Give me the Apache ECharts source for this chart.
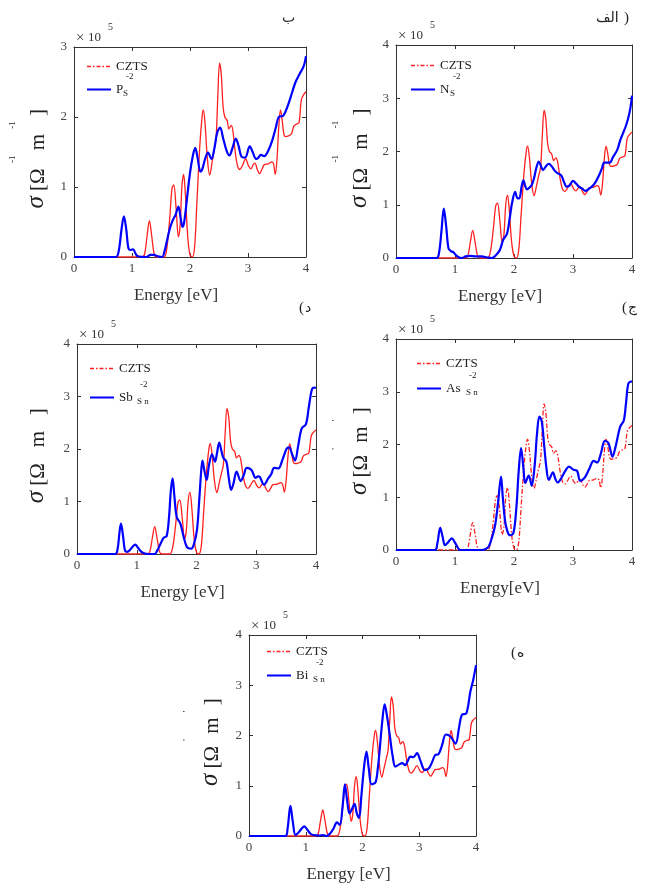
<!DOCTYPE html>
<html>
<head>
<meta charset="utf-8">
<script src="https://cdn.jsdelivr.net/npm/echarts@6/dist/echarts.min.js"></script>
<style>
html, body { margin: 0; padding: 0; background: #fff; }
#main { width: 649px; height: 885px; }
</style>
</head>
<body>
<div id="main"></div>
<script>
// conductivity sigma (x 10^5) against photon energy [eV]
var czts = [[0,0],[0.75,0],[1.18,0],[1.22,0.05],[1.26,0.3],[1.30,0.52],[1.34,0.3],[1.38,0.05],[1.42,0],[1.55,0],
  [1.6,0.12],[1.65,0.55],[1.69,0.98],[1.72,1.03],[1.76,0.7],[1.80,0.29],[1.83,0.45],[1.86,1.0],[1.89,1.18],[1.92,0.9],
  [1.96,0.3],[2.0,0.03],[2.04,0],[2.08,0.15],[2.12,0.8],[2.17,1.6],[2.21,2.02],[2.23,2.1],[2.26,1.9],[2.30,1.4],
  [2.34,1.17],[2.38,1.35],[2.42,1.55],[2.45,1.7],[2.48,2.3],[2.51,2.77],[2.54,2.6],[2.57,2.15],[2.60,2.0],[2.64,1.95],
  [2.67,1.83],[2.71,1.88],[2.74,1.8],[2.78,1.5],[2.82,1.3],[2.86,1.25],[2.90,1.3],[2.96,1.40],[3.01,1.3],[3.05,1.26],
  [3.09,1.32],[3.12,1.34],[3.16,1.25],[3.20,1.19],[3.24,1.25],[3.28,1.32],[3.35,1.33],[3.41,1.36],[3.44,1.33],[3.47,1.18],
  [3.50,1.4],[3.53,1.85],[3.56,2.10],[3.59,1.95],[3.62,1.75],[3.65,1.72],[3.70,1.73],[3.75,1.76],[3.79,1.87],[3.84,1.9],
  [3.88,1.92],[3.92,2.25],[3.96,2.32],[4.0,2.36]];

var pS = [[0,0],[0.72,0],[0.77,0.08],[0.82,0.4],[0.86,0.58],[0.90,0.4],[0.94,0.12],[0.98,0.1],[1.02,0.11],[1.06,0.05],
  [1.1,0.01],[1.25,0],[1.32,0.03],[1.38,0.03],[1.45,0.01],[1.52,0],[1.56,0.08],[1.6,0.22],[1.65,0.4],[1.70,0.52],
  [1.75,0.6],[1.80,0.72],[1.84,0.55],[1.87,0.43],[1.90,0.5],[1.95,0.85],[2.0,1.2],[2.05,1.45],[2.09,1.56],[2.13,1.42],
  [2.18,1.22],[2.21,1.25],[2.26,1.4],[2.31,1.49],[2.37,1.40],[2.42,1.55],[2.47,1.78],[2.52,1.85],[2.57,1.7],[2.63,1.52],
  [2.68,1.45],[2.73,1.55],[2.79,1.69],[2.84,1.58],[2.89,1.43],[2.95,1.42],[3.03,1.58],[3.08,1.5],[3.14,1.40],[3.18,1.42],
  [3.22,1.46],[3.28,1.44],[3.35,1.52],[3.42,1.67],[3.48,1.85],[3.53,2.0],[3.61,2.02],[3.69,2.17],[3.76,2.35],[3.82,2.5],
  [3.88,2.6],[3.94,2.69],[3.97,2.75],[4.0,2.87]];

var nS = [[0,0],[0.69,0],[0.73,0.1],[0.77,0.5],[0.81,0.93],[0.85,0.6],[0.89,0.18],[0.93,0.13],[0.97,0.11],[1.02,0.05],
  [1.07,0.01],[1.12,0],[1.18,0.03],[1.25,0.04],[1.35,0.03],[1.45,0.03],[1.55,0.01],[1.62,0],[1.70,0.06],[1.76,0.15],
  [1.82,0.35],[1.88,0.45],[1.93,0.77],[1.97,1.05],[2.02,1.24],[2.06,1.12],[2.09,1.12],[2.13,1.35],[2.16,1.46],[2.19,1.35],
  [2.22,1.29],[2.26,1.32],[2.30,1.37],[2.34,1.5],[2.38,1.7],[2.42,1.81],[2.46,1.72],[2.49,1.65],[2.54,1.72],[2.59,1.77],
  [2.64,1.72],[2.69,1.64],[2.73,1.60],[2.80,1.55],[2.85,1.42],[2.89,1.34],[2.94,1.36],[3.0,1.45],[3.05,1.40],[3.1,1.34],
  [3.16,1.3],[3.21,1.26],[3.27,1.30],[3.32,1.34],[3.38,1.42],[3.44,1.55],[3.49,1.68],[3.53,1.79],[3.62,1.79],[3.68,1.9],
  [3.75,2.03],[3.80,2.21],[3.85,2.35],[3.89,2.46],[3.93,2.6],[3.97,2.8],[4.0,3.05]];

var sbSn = [[0,0],[0.64,0],[0.68,0.1],[0.71,0.4],[0.735,0.58],[0.77,0.35],[0.80,0.08],[0.83,0.04],[0.88,0.07],[0.93,0.14],
  [0.975,0.18],[1.02,0.12],[1.07,0.05],[1.11,0.02],[1.2,0],[1.3,0],[1.34,0.06],[1.40,0.2],[1.45,0.31],[1.50,0.34],
  [1.54,0.7],[1.57,1.2],[1.60,1.44],[1.63,1.1],[1.67,0.7],[1.73,0.58],[1.78,0.35],[1.84,0.13],[1.91,0.1],[1.96,0.2],
  [2.01,0.48],[2.05,1.1],[2.08,1.6],[2.10,1.78],[2.13,1.6],[2.17,1.41],[2.21,1.7],[2.26,1.90],[2.31,1.76],[2.34,1.9],
  [2.38,2.12],[2.42,1.95],[2.45,1.83],[2.50,1.76],[2.54,1.45],[2.58,1.22],[2.62,1.35],[2.67,1.57],[2.74,1.39],[2.79,1.5],
  [2.84,1.64],[2.92,1.60],[2.99,1.45],[3.03,1.48],[3.06,1.47],[3.13,1.32],[3.2,1.44],[3.25,1.52],[3.30,1.64],[3.37,1.63],
  [3.44,1.8],[3.51,2.01],[3.55,2.03],[3.60,1.9],[3.65,1.78],[3.70,2.05],[3.76,2.39],[3.83,2.47],[3.88,2.8],[3.93,3.13],
  [3.97,3.17],[4.0,3.16]];

var asSn = [[0,0],[0.66,0],[0.70,0.12],[0.75,0.42],[0.79,0.25],[0.83,0.09],[0.88,0.14],[0.945,0.22],[1.0,0.14],[1.05,0.04],
  [1.09,0],[1.45,0],[1.52,0.02],[1.57,0.06],[1.63,0.25],[1.68,0.47],[1.73,0.9],[1.78,1.39],[1.81,1.0],[1.85,0.54],
  [1.89,0.35],[1.93,0.28],[1.99,0.32],[2.04,0.8],[2.08,1.5],[2.12,1.93],[2.16,1.55],[2.19,1.27],[2.25,1.41],[2.30,1.22],
  [2.35,1.6],[2.39,2.2],[2.43,2.53],[2.47,2.44],[2.51,2.0],[2.55,1.55],[2.59,1.33],[2.66,1.47],[2.70,1.35],[2.74,1.28],
  [2.80,1.36],[2.87,1.5],[2.93,1.58],[3.01,1.52],[3.07,1.50],[3.12,1.31],[3.16,1.33],[3.21,1.39],[3.28,1.55],[3.35,1.69],
  [3.41,1.66],[3.47,1.82],[3.54,2.07],[3.60,2.03],[3.67,1.77],[3.72,1.95],[3.80,2.34],[3.86,2.45],[3.90,2.8],[3.94,3.16],
  [4.0,3.2]];

var biSn = [[0,0],[0.64,0],[0.68,0.15],[0.73,0.60],[0.77,0.3],[0.82,0.02],[0.88,0.08],[0.93,0.15],[0.975,0.19],[1.03,0.12],
  [1.09,0.04],[1.14,0.02],[1.25,0.01],[1.3,0.02],[1.37,0],[1.43,0.05],[1.49,0.15],[1.55,0.27],[1.60,0.22],[1.65,0.6],
  [1.69,1.03],[1.73,0.7],[1.77,0.45],[1.82,0.55],[1.86,0.64],[1.90,0.45],[1.94,0.36],[1.98,0.8],[2.03,1.4],[2.07,1.68],
  [2.11,1.35],[2.16,1.03],[2.23,1.07],[2.27,1.35],[2.30,1.68],[2.35,2.3],[2.39,2.62],[2.43,2.4],[2.48,2.01],[2.53,1.6],
  [2.58,1.38],[2.64,1.42],[2.70,1.45],[2.75,1.41],[2.80,1.5],[2.84,1.58],[2.90,1.57],[2.96,1.65],[3.02,1.5],[3.10,1.31],
  [3.17,1.35],[3.23,1.48],[3.28,1.61],[3.34,1.63],[3.40,1.8],[3.47,2.02],[3.55,1.98],[3.64,1.84],[3.70,2.15],[3.75,2.41],
  [3.83,2.44],[3.90,2.87],[3.95,3.1],[4.0,3.40]];

var serif = '"Liberation Serif", "Times New Roman", serif';
var arabic = '"DejaVu Sans", sans-serif';

// panel layout: grid box, legend spot, label texts
// tag: [word, word x, paren, paren x, y]
var panels = [
  { tag: ['ب', 282, '', 0, 20], box: [74, 47, 232, 210], ymax: 3, doped: pS, key: 'P_S', main: 'P', sub: 'S', subDx: 8,
    leg: [86, 60, 10], xName: 'Energy [eV]', yGap: 25, sup: '-1' },
  { tag: ['الف', 596, ')', 624, 20], box: [396, 45, 236, 213], ymax: 4, doped: nS, key: 'N_S', main: 'N', sub: 'S', subDx: 11,
    leg: [410, 59, 11], xName: 'Energy [eV]', yGap: 24, sup: '-1' },
  { tag: ['د', 305, '(', 299, 310], box: [77, 344, 239, 210], ymax: 4, doped: sbSn, key: 'Sb_Sn', main: 'Sb', sub: 'S n', subDx: 19,
    leg: [89, 362, 16], xName: 'Energy [eV]', yGap: 28, sup: '' },
  { tag: ['ج', 628, '(', 622, 310], box: [396, 339, 236, 211], ymax: 4, doped: asSn, key: 'As_Sn', main: 'As', sub: 'S n', subDx: 21,
    leg: [416, 357, 12], xName: 'Energy[eV]', yGap: 24, sup: "'", dashed: true },
  { tag: ['ه', 517, '(', 511, 655], box: [249, 635, 227, 201], ymax: 4, doped: biSn, key: 'Bi_Sn', main: 'Bi', sub: 'S n', subDx: 18,
    leg: [266, 645, 11], xName: 'Energy [eV]', yGap: 26, sup: "'" }
];

var axisColor = '#333';
var option = { animation: false, backgroundColor: '#fff', grid: [], xAxis: [], yAxis: [], series: [], legend: [], graphic: [] };

panels.forEach(function (p, i) {
  var b = p.box;
  option.grid.push({ left: b[0], top: b[1], width: b[2], height: b[3], containLabel: false });

  var tick = { inside: true, length: 4, lineStyle: { color: axisColor } };
  var line = { onZero: false, lineStyle: { color: axisColor, width: 1 } };
  option.xAxis.push({
    gridIndex: i, type: 'value', min: 0, max: 4, interval: 1, position: 'bottom',
    name: p.xName, nameLocation: 'middle', nameGap: 30,
    nameTextStyle: { fontFamily: serif, fontSize: 17, color: '#333', padding: [0, 28, 0, 0] },
    axisLine: line, axisTick: tick, splitLine: { show: false },
    axisLabel: { fontFamily: serif, fontSize: 13, color: '#444', margin: 5 }
  });
  option.xAxis.push({
    gridIndex: i, type: 'value', min: 0, max: 4, interval: 1, position: 'top',
    axisLine: line, axisTick: tick, splitLine: { show: false }, axisLabel: { show: false }
  });

  var yName = p.sup
    ? '{sp| }{s|σ}{b| [Ω }{u|' + p.sup + '}{b| m }{u|' + p.sup + '}{b| ]}'
    : '{sp| }{s|σ}{b| [Ω   m   ]}';
  option.yAxis.push({
    gridIndex: i, type: 'value', min: 0, max: p.ymax, interval: 1, position: 'left',
    name: yName, nameLocation: 'middle', nameRotate: 90, nameGap: p.yGap,
    nameTextStyle: {
      fontFamily: serif, color: '#222', padding: [0, 16, 0, 0],
      rich: {
        sp: { fontSize: 10, lineHeight: 41 },
        s: { fontFamily: serif, fontStyle: 'italic', fontSize: 25, lineHeight: 24, verticalAlign: 'bottom', color: '#222' },
        b: { fontFamily: serif, fontSize: 21, lineHeight: 24, verticalAlign: 'bottom', color: '#222' },
        u: { fontFamily: serif, fontSize: 9, lineHeight: 14, verticalAlign: 'top', color: '#222' }
      }
    },
    axisLine: line, axisTick: tick, splitLine: { show: false },
    axisLabel: { fontFamily: serif, fontSize: 13, color: '#444', margin: 7 }
  });
  option.yAxis.push({
    gridIndex: i, type: 'value', min: 0, max: p.ymax, interval: 1, position: 'right',
    axisLine: line, axisTick: tick, splitLine: { show: false }, axisLabel: { show: false }
  });

  var redName = p.dashed ? 'CZTS ' : 'CZTS';
  option.series.push({
    type: 'line', name: redName, xAxisIndex: 2 * i, yAxisIndex: 2 * i, data: czts,
    showSymbol: false, symbol: 'none', smooth: 0.35,
    lineStyle: { color: '#ff2020', width: 1.3, type: p.dashed ? [5, 2, 1.5, 2] : 'solid' },
    itemStyle: { color: '#ff2020' }
  });
  option.series.push({
    type: 'line', name: p.key, xAxisIndex: 2 * i, yAxisIndex: 2 * i, data: p.doped,
    showSymbol: false, symbol: 'none', smooth: 0.35,
    lineStyle: { color: '#0000ff', width: 2.2 },
    itemStyle: { color: '#0000ff' }
  });

  option.legend.push({
    left: p.leg[0], top: p.leg[1], orient: 'vertical', itemWidth: 24, itemHeight: 14, itemGap: p.leg[2],
    selectedMode: false, padding: 0,
    itemStyle: { opacity: 0, color: 'rgba(0,0,0,0)', borderWidth: 0 },
    data: [{ name: redName, lineStyle: { type: [4, 2, 1.5, 2], width: 1.3 } }, { name: p.key }],
    formatter: function (n) { return n.indexOf('CZTS') === 0 ? 'CZTS' : p.main; },
    textStyle: { fontFamily: serif, fontSize: 13, color: '#222' }
  });

  // sub/superscript of the dopant legend entry
  var tx = p.leg[0] + 24 + 5;
  var row2 = p.leg[1] + 14 + p.leg[2] + 7;
  option.graphic.push({ type: 'text', left: tx + p.subDx, top: row2 - 2,
    style: { text: p.sub, fontFamily: serif, fontSize: 9, fill: '#222' } });
  option.graphic.push({ type: 'text', left: tx + p.subDx + 3, top: row2 - 19,
    style: { text: '-2', fontFamily: serif, fontSize: 9, fill: '#222' } });

  // x 10^5 multiplier above the y axis
  option.graphic.push({ type: 'text', left: b[0] + 2, top: b[1] - 16,
    style: { text: '×', fontFamily: serif, fontSize: 15, fill: '#333' } });
  option.graphic.push({ type: 'text', left: b[0] + 14, top: b[1] - 16,
    style: { text: '10', fontFamily: serif, fontSize: 13, fill: '#333' } });
  option.graphic.push({ type: 'text', left: b[0] + 34, top: b[1] - 25,
    style: { text: '5', fontFamily: serif, fontSize: 10, fill: '#333' } });

  // panel tag, word and bracket placed separately
  var t = p.tag;
  option.graphic.push({ type: 'text', left: t[1], top: t[4] - 9,
    style: { text: t[0], fontFamily: arabic, fontSize: 14, fill: '#222' } });
  if (t[2]) {
    option.graphic.push({ type: 'text', left: t[3], top: t[4] - 9,
      style: { text: t[2], fontFamily: serif, fontSize: 15, fill: '#222' } });
  }
});

var myChart = echarts.init(document.getElementById('main'));
myChart.setOption(option);
</script>
</body>
</html>
